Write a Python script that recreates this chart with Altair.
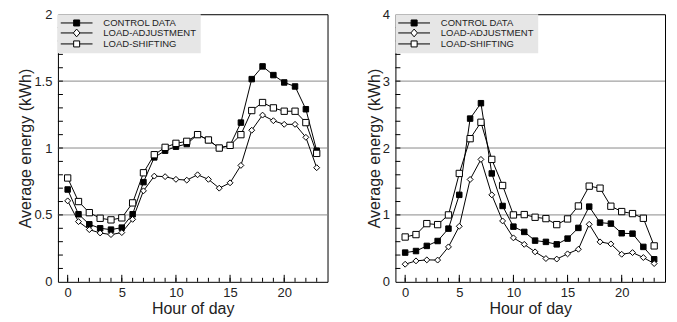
import altair as alt
import pandas as pd

hours = list(range(24))
series_names = ["CONTROL DATA", "LOAD-ADJUSTMENT", "LOAD-SHIFTING"]

# Left panel
left_control = [0.69, 0.505, 0.43, 0.40, 0.39, 0.405, 0.505, 0.745, 0.93, 0.98, 1.01, 1.03,
                1.10, 1.06, 1.00, 1.02, 1.19, 1.515, 1.61, 1.545, 1.49, 1.46, 1.29, 0.98]
left_adjust = [0.605, 0.45, 0.39, 0.365, 0.353, 0.368, 0.467, 0.68, 0.79, 0.786, 0.766, 0.76,
               0.80, 0.766, 0.70, 0.74, 0.87, 1.133, 1.246, 1.204, 1.177, 1.177, 1.08, 0.853]
left_shift = [0.776, 0.60, 0.517, 0.475, 0.463, 0.478, 0.59, 0.815, 0.95, 1.005, 1.035, 1.05,
              1.10, 1.06, 1.00, 1.02, 1.10, 1.28, 1.34, 1.30, 1.275, 1.275, 1.19, 0.96]

# Right panel
right_control = [0.437, 0.46, 0.537, 0.61, 0.795, 1.30, 2.44, 2.67, 1.62, 1.134, 0.825, 0.746,
                 0.616, 0.597, 0.56, 0.646, 0.806, 1.124, 0.885, 0.87, 0.726, 0.72, 0.522, 0.337]
right_adjust = [0.263, 0.313, 0.328, 0.325, 0.522, 0.83, 1.53, 1.83, 1.30, 0.91, 0.657, 0.56,
                0.448, 0.348, 0.34, 0.418, 0.487, 0.86, 0.597, 0.567, 0.412, 0.437, 0.363, 0.273]
right_shift = [0.67, 0.706, 0.87, 0.855, 1.0, 1.62, 2.14, 2.385, 1.83, 1.44, 1.0, 1.005,
               0.965, 0.945, 0.855, 0.94, 1.134, 1.43, 1.40, 1.13, 1.05, 1.02, 0.95, 0.537]

x_labels = [0, 5, 10, 15, 20]
left_y_labels = [0, 0.5, 1, 1.5, 2]
left_grid = [0.5, 1, 1.5]
left_minor = [round(0.1 * i, 1) for i in range(1, 20)]
right_y_labels = [0, 1, 2, 3, 4]
right_grid = [1, 2, 3]
right_minor = [round(0.2 * i, 1) for i in range(1, 20)]

W, H = 270, 268
FONT = "Liberation Sans"

SQ = "M-5.3,0H-1M1,0H5.3M-1,-1H1V1H-1Z"
DM = "M-5.3,0H-1.1M1.1,0H5.3M0,-1.3L1.1,0L0,1.3L-1.1,0Z"


def panel(ctrl, adj, shf, ymax, ylabels, grids, minor):
    df = pd.DataFrame({
        "hour": hours * 3,
        "value": ctrl + adj + shf,
        "series": [series_names[0]] * 24 + [series_names[1]] * 24 + [series_names[2]] * 24,
    })
    xs = alt.Scale(domain=[-0.9, 24], nice=False, zero=False)
    ys = alt.Scale(domain=[0, ymax], nice=False)
    x_axis = alt.Axis(
        values=x_labels, title="Hour of day", tickSize=0, domain=False, grid=False,
        labelFontSize=13, titleFontSize=16, labelPadding=5, titlePadding=1,
        labelFont=FONT, titleFont=FONT, labelColor="#222", titleColor="#222",
        titleFontWeight="normal")
    y_axis = alt.Axis(
        values=ylabels, title="Average energy (kWh)", tickSize=0, domain=False, grid=False,
        labelFontSize=13, titleFontSize=16, labelPadding=6, titlePadding=0,
        labelFont=FONT, titleFont=FONT, labelColor="#222", titleColor="#222",
        titleFontWeight="normal", format="~g")

    grid = alt.Chart(pd.DataFrame({"g": grids})).mark_rule(color="#8a8a8a", strokeWidth=1).encode(
        y=alt.Y("g:Q", scale=ys, axis=y_axis)
    )
    lines = alt.Chart(df).mark_line(color="black", strokeWidth=1).encode(
        x=alt.X("hour:Q", scale=xs, axis=x_axis),
        y=alt.Y("value:Q", scale=ys, axis=y_axis),
        detail="series:N",
    )
    points = alt.Chart(df).mark_point(filled=True, opacity=1, stroke="black", strokeWidth=1).encode(
        x=alt.X("hour:Q", scale=xs, axis=x_axis),
        y=alt.Y("value:Q", scale=ys, axis=y_axis),
        shape=alt.Shape("series:N", scale=alt.Scale(domain=series_names, range=["square", "diamond", "square"]), legend=None),
        fill=alt.Fill("series:N", scale=alt.Scale(domain=series_names, range=["black", "white", "white"]), legend=None),
        size=alt.Size("series:N", scale=alt.Scale(domain=series_names, range=[30, 40, 30]), legend=None),
    )
    leg = alt.Legend(
        orient="none", legendX=0, legendY=0, title=None, fillColor="#e6e6e6",
        padding=4, rowPadding=-2, symbolSize=36, symbolStrokeWidth=1, symbolStrokeColor="black",
        symbolOffset=10, labelOffset=22, labelFontSize=9.5, labelFont=FONT, labelColor="#222",
    )
    legend_layer = alt.Chart(df).transform_calculate(lseries="datum.series").transform_filter(
        "datum.hour < -100"
    ).mark_point(filled=False, opacity=1, strokeWidth=1, size=36).encode(
        x=alt.X("hour:Q", scale=xs, axis=x_axis),
        y=alt.Y("value:Q", scale=ys, axis=y_axis),
        shape=alt.Shape("lseries:N", scale=alt.Scale(domain=series_names, range=[SQ, DM, SQ]), legend=leg),
        fill=alt.Fill("lseries:N", scale=alt.Scale(domain=series_names, range=["black", "white", "white"]), legend=leg),
        stroke=alt.Stroke("lseries:N", scale=alt.Scale(domain=series_names, range=["black", "black", "black"]), legend=leg),
    )
    yticks = alt.Chart(pd.DataFrame({"t": minor})).mark_rule(color="black", strokeWidth=1).encode(
        y=alt.Y("t:Q", scale=ys, axis=y_axis), x=alt.value(0), x2=alt.value(5)
    )
    xminor = alt.Chart(pd.DataFrame({"h": hours})).mark_rule(color="black", strokeWidth=1).encode(
        x=alt.X("h:Q", scale=xs, axis=x_axis), y=alt.value(H), y2=alt.value(H - 4)
    )
    xmajor = alt.Chart(pd.DataFrame({"h": x_labels})).mark_rule(color="black", strokeWidth=1).encode(
        x=alt.X("h:Q", scale=xs, axis=x_axis), y=alt.value(H), y2=alt.value(H - 7)
    )
    return alt.layer(grid, lines, points, legend_layer, yticks, xminor, xmajor).resolve_scale(
        shape="independent", fill="independent", size="independent", stroke="independent"
    ).resolve_legend(shape="independent", fill="independent", size="independent", stroke="independent").properties(width=W, height=H)


left = panel(left_control, left_adjust, left_shift, 2, left_y_labels, left_grid, left_minor)
right = panel(right_control, right_adjust, right_shift, 4, right_y_labels, right_grid, right_minor)

chart = alt.hconcat(left, right, spacing=37).resolve_scale(
    x="independent", y="independent"
).properties(
    padding={"left": 9, "top": -1, "right": 3, "bottom": 0}
).configure_view(stroke="black", strokeWidth=1)

chart.save("out.html", embed_options={"renderer": "svg", "actions": False})
